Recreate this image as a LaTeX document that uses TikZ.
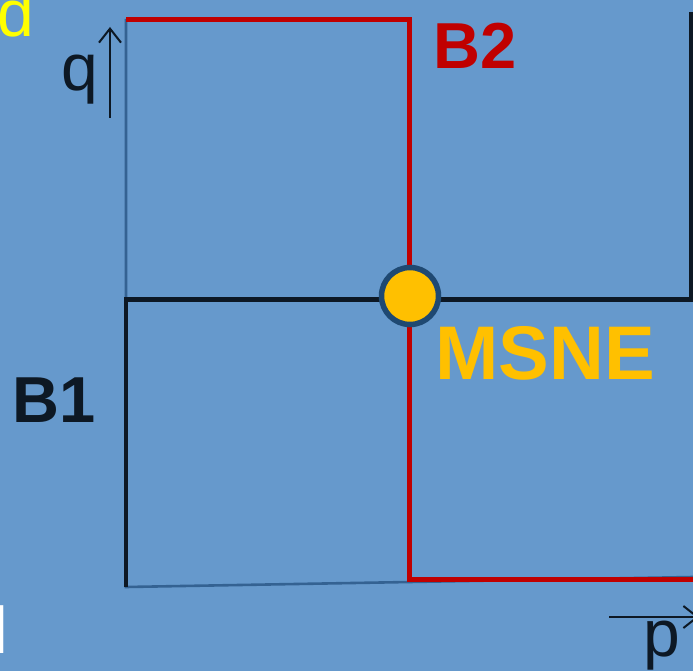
\documentclass[tikz,border=0pt]{standalone}
\usepackage{fontspec}
\setmainfont{Liberation Sans}
\usetikzlibrary{arrows.meta}
\definecolor{bgblue}{RGB}{102,153,204}
\definecolor{axisblue}{RGB}{52,98,146}
\definecolor{bone}{RGB}{13,24,36}
\definecolor{btwo}{RGB}{192,0,0}
\definecolor{gold}{RGB}{255,192,0}
\definecolor{ringblue}{RGB}{31,73,114}
\definecolor{dyellow}{RGB}{255,255,0}
\tikzset{
  lbl/.style={inner sep=0pt, anchor=base west, font=\fontsize{66}{66}\selectfont},
  blbl/.style={lbl, font=\fontsize{65}{65}\selectfont\bfseries},
  axisline/.style={draw=axisblue, line width=2.6pt},
  bestone/.style={draw=bone, line width=4.6pt},
  besttwo/.style={draw=btwo, line width=5pt},
  axarrow/.style={draw=bone, line width=2pt, -{Straight Barb[length=14pt,width=22pt,line width=2pt]}}
}
\begin{document}
\begin{tikzpicture}[x=1pt,y=-1pt]
\fill[bgblue] (0,0) rectangle (693,671);
\useasboundingbox (0,0) rectangle (693,671);
% coordinates
\coordinate (axtop) at (126,19);
\coordinate (axbl) at (126,587);
\coordinate (axbr) at (693,577);
\coordinate (b1bl) at (126,587);
\coordinate (b1ml) at (126,299.5);
\coordinate (b1mr) at (691,299.5);
\coordinate (b1tr) at (691,12);
\coordinate (b2tl) at (126,19.5);
\coordinate (b2tm) at (409.5,19.5);
\coordinate (b2bm) at (409.5,579.5);
\coordinate (b2br) at (700,579.5);
% axes box
\draw[axisline] (axtop) -- (axbl) -- (axbr);
% best response 1 (black)
\draw[bestone] (b1bl) -- (b1ml) -- (b1mr) -- (b1tr);
% best response 2 (red)
\draw[besttwo] (b2tl) -- (b2tm) -- (b2bm) -- (b2br);
% MSNE point
\node[circle, fill=gold, draw=ringblue, line width=5.5pt, minimum size=57pt, inner sep=0pt] (msne) at (410,296) {};
% axis arrows
\coordinate (qs) at (110,118);
\coordinate (qe) at (110,27);
\draw[axarrow] (qs) -- (qe);
\coordinate (ps) at (609,617);
\coordinate (pe) at (699,617);
\draw[axarrow] (ps) -- (pe);
% labels
\node[lbl, text=bone] (q) at (61,91) {q};
\node[lbl, text=bone] (p) at (643,656) {p};
\node[lbl, text=dyellow] (d) at (-3,37) {d};
\node[lbl, text=white] (l) at (-6.4,653) {l};
\node[blbl, text=btwo] (b2) at (433,69) {B2};
\node[blbl, text=bone] (b1) at (12,422) {B1};
\node[lbl, text=gold, font=\fontsize{76}{76}\selectfont\bfseries] (msnelbl) at (435,379) {MSNE};
\end{tikzpicture}
\end{document}
